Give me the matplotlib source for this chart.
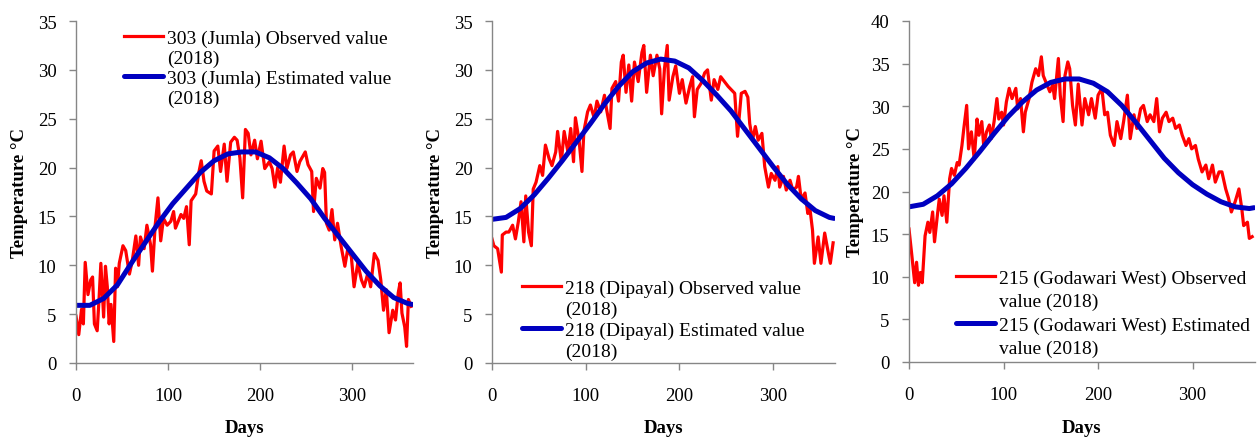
import numpy as np
import matplotlib
matplotlib.use('Agg')
import matplotlib.pyplot as plt
from matplotlib.lines import Line2D

plt.rcParams['font.family'] = ['Liberation Serif', 'DejaVu Serif']

# ---------------- data ----------------
jumla_obs_days = [0, 3, 6, 8, 10, 13, 16, 18, 20, 23, 25, 27, 30, 32, 34, 36, 38, 41, 43, 45, 47, 51, 54, 58,
                  61, 65, 68, 70, 74, 77, 81, 83, 86, 89, 92, 95, 99, 103, 106, 108, 114, 117, 120, 123, 125,
                  130, 133, 136, 139, 142, 147, 150, 154, 157, 161, 164, 168, 172, 175, 178, 181, 184, 187,
                  190, 194, 197, 201, 205, 210, 213, 216, 219, 222, 226, 229, 233, 236, 240, 243, 249, 252,
                  256, 258, 261, 265, 268, 270, 272, 275, 278, 281, 284, 288, 292, 295, 299, 302, 306, 310,
                  313, 317, 320, 324, 328, 331, 334, 337, 340, 344, 347, 350, 352, 354, 357, 359, 361, 364]
jumla_obs = [4.8, 2.9, 5.5, 4.0, 10.3, 7.0, 8.5, 8.8, 4.0, 3.3, 6.5, 10.2, 4.7, 9.9, 7.8, 4.0, 6.0, 2.2, 9.7,
             7.8, 10.2, 12.0, 11.5, 9.1, 10.4, 13.0, 10.0, 12.9, 11.7, 14.1, 12.1, 9.4, 14.1, 16.9, 12.5,
             14.8, 14.1, 14.5, 15.5, 13.8, 15.2, 14.8, 16.0, 12.1, 16.6, 17.3, 19.3, 20.7, 18.6, 17.6, 17.3,
             21.7, 22.2, 19.6, 22.4, 18.6, 22.6, 23.1, 22.8, 21.0, 16.9, 23.9, 23.5, 21.3, 22.8, 20.9, 22.7,
             19.9, 20.6, 19.9, 18.0, 20.0, 18.5, 22.2, 19.9, 21.3, 21.6, 19.6, 20.6, 21.6, 20.3, 19.6, 15.5,
             18.9, 17.9, 19.9, 19.5, 14.3, 13.6, 15.7, 12.6, 14.3, 11.9, 9.9, 11.6, 10.9, 7.8, 10.2, 8.5,
             7.8, 9.2, 7.8, 11.2, 10.5, 8.5, 5.4, 7.5, 3.1, 5.4, 4.4, 7.2, 8.2, 5.1, 3.7, 1.7, 6.5, 5.8]

dipayal_obs_days = [0, 2, 6, 10, 11, 15, 18, 22, 25, 28, 31, 34, 36, 39, 42, 44, 47, 51, 54, 57, 61, 64, 68,
                    70, 74, 77, 81, 84, 87, 89, 93, 96, 98, 102, 105, 109, 112, 116, 120, 122, 126, 128, 132,
                    135, 138, 140, 143, 146, 149, 152, 156, 160, 162, 165, 169, 172, 176, 179, 181, 184, 187,
                    189, 193, 196, 200, 203, 207, 211, 214, 216, 219, 223, 227, 230, 234, 237, 241, 244, 248,
                    252, 255, 259, 262, 266, 270, 273, 275, 278, 281, 284, 288, 291, 295, 298, 302, 305, 307,
                    311, 314, 318, 321, 325, 327, 330, 334, 337, 339, 342, 344, 348, 351, 355, 359, 361, 364]
dipayal_obs = [12.7, 12.0, 11.7, 9.3, 13.1, 13.4, 13.4, 14.1, 12.7, 14.4, 16.5, 12.4, 17.1, 13.4, 12.0, 17.8,
               18.5, 20.2, 19.2, 22.3, 20.9, 20.2, 21.6, 23.7, 20.6, 23.7, 21.6, 24.0, 20.6, 25.1, 22.7, 19.6,
               23.7, 25.7, 26.4, 25.1, 26.8, 25.7, 27.4, 26.1, 24.0, 28.1, 28.8, 26.8, 30.8, 31.5, 27.7, 30.5,
               26.8, 30.8, 28.8, 31.8, 32.5, 27.7, 31.5, 29.4, 31.5, 30.1, 25.5, 30.1, 32.5, 26.9, 29.3, 30.4,
               27.6, 29.0, 26.6, 28.3, 29.3, 25.2, 28.0, 28.6, 29.7, 30.0, 26.9, 29.0, 28.0, 29.3, 28.8, 28.3,
               28.0, 27.6, 23.2, 27.6, 27.8, 27.2, 24.5, 22.8, 24.2, 22.8, 23.5, 20.1, 18.0, 19.4, 18.7, 20.1,
               18.0, 19.1, 17.7, 18.7, 17.7, 18.0, 19.1, 16.7, 17.4, 15.3, 16.0, 13.6, 10.2, 12.9, 10.2, 13.3,
               11.2, 10.2, 12.3]

godawari_obs_days = [0, 3, 6, 8, 10, 12, 14, 17, 20, 22, 25, 27, 30, 32, 35, 37, 40, 43, 45, 48, 51, 53, 56,
                     58, 61, 63, 66, 69, 72, 74, 77, 79, 82, 85, 87, 90, 93, 95, 98, 100, 103, 106, 109, 113,
                     115, 118, 121, 123, 127, 130, 134, 137, 140, 142, 146, 149, 152, 154, 158, 160, 163, 165,
                     168, 170, 173, 176, 179, 183, 186, 190, 193, 197, 200, 204, 207, 210, 213, 217, 220, 224,
                     227, 231, 234, 238, 241, 245, 248, 252, 255, 259, 262, 265, 268, 272, 275, 279, 282, 286,
                     289, 293, 296, 299, 303, 306, 310, 314, 317, 321, 324, 328, 331, 335, 338, 341, 345, 349,
                     352, 354, 358, 360, 363]
godawari_obs = [15.6, 12.5, 9.3, 11.7, 9.0, 10.5, 9.3, 14.8, 16.4, 15.2, 17.6, 14.1, 17.2, 19.1, 17.2, 19.5,
                16.4, 21.5, 22.7, 21.9, 23.4, 23.1, 25.4, 27.4, 30.1, 25.0, 27.0, 23.8, 28.5, 26.6, 28.2, 25.4,
                27.0, 27.8, 26.2, 28.2, 30.9, 28.5, 29.3, 27.8, 30.5, 32.1, 30.9, 32.1, 29.7, 30.9, 27.0, 29.3,
                30.9, 32.8, 34.4, 33.6, 35.8, 33.6, 32.5, 31.7, 32.5, 30.9, 35.6, 31.3, 28.2, 33.6, 35.2, 34.4,
                30.1, 27.8, 32.6, 27.8, 30.9, 29.0, 30.9, 28.6, 31.3, 32.1, 29.0, 29.3, 26.6, 25.4, 28.2, 26.2,
                28.2, 31.3, 26.2, 29.0, 27.4, 29.7, 30.1, 28.2, 29.0, 28.2, 30.9, 27.0, 28.6, 29.3, 28.2, 28.6,
                27.4, 27.8, 26.6, 25.4, 26.2, 25.0, 25.4, 23.8, 22.3, 23.1, 21.5, 23.1, 21.1, 22.3, 22.3, 20.3,
                19.2, 17.6, 18.8, 20.3, 18.0, 16.0, 16.4, 14.5, 14.7]

est_days = [0, 15, 30, 45, 60, 75, 90, 105, 120, 135, 150, 165, 180, 195, 210, 225, 240, 255, 270, 285,
            300, 315, 330, 345, 360, 365]
jumla_est = [5.9, 5.9, 6.6, 8.0, 10.2, 12.3, 14.4, 16.3, 17.9, 19.5, 20.7, 21.4, 21.6, 21.6, 21.0, 19.9,
             18.4, 16.8, 14.8, 13.0, 11.2, 9.4, 7.9, 6.7, 6.1, 6.0]
dipayal_est = [14.7, 14.9, 15.8, 17.2, 18.9, 20.7, 22.6, 24.5, 26.5, 28.3, 29.8, 30.7, 31.1, 30.9, 30.2,
               28.9, 27.4, 25.8, 23.9, 22.0, 20.1, 18.3, 16.8, 15.6, 14.9, 14.8]
godawari_est = [18.2, 18.5, 19.5, 20.9, 22.7, 24.7, 26.8, 28.8, 30.5, 31.9, 32.8, 33.2, 33.2, 32.7, 31.7,
                30.1, 28.1, 26.0, 23.9, 22.2, 20.8, 19.7, 18.8, 18.2, 18.0, 18.1]

labels_obs = ["303 (Jumla) Observed value", "218 (Dipayal) Observed value", "215 (Godawari West) Observed"]
labels_obs2 = ["(2018)", "(2018)", "value (2018)"]
labels_est = ["303 (Jumla) Estimated value", "218 (Dipayal) Estimated value", "215 (Godawari West) Estimated"]
labels_est2 = ["(2018)", "(2018)", "value (2018)"]
y_max = [35, 35, 40]
x_ticks = [0, 100, 200, 300]

# ---------------- layout ----------------
W, H = 1260, 439
fig = plt.figure(figsize=(W / 100, H / 100), dpi=100)

# axes rectangles in pixels: left, right, top, bottom
rects = [(76, 413, 22, 364), (492, 835, 22, 364), (909, 1255, 22, 363)]
# legend anchor (handle left x, top y) in pixels
leg_anchor = [(124, 30), (522, 280), (956, 270)]
leg_spacing = [0.12, 0.17, 0.3]
ylab_x = [28, 444, 864]

obs = [(jumla_obs_days, jumla_obs), (dipayal_obs_days, dipayal_obs), (godawari_obs_days, godawari_obs)]
est = [jumla_est, dipayal_est, godawari_est]

RED = '#FF0000'
BLUE = '#0000C0'
GREY = '#868686'
FS = 13.5
LFS = 14

for i in range(3):
    l, r, t, b = rects[i]
    ax = fig.add_axes([l / W, 1 - b / H, (r - l) / W, (b - t) / H])
    ln1, = ax.plot(obs[i][0], obs[i][1], color=RED, lw=2.3, solid_joinstyle='round')
    ln2, = ax.plot(est_days, est[i], color=BLUE, lw=3.6, solid_capstyle='round')
    ax.set_xlim(0, 366)
    ax.set_ylim(0, y_max[i])
    ax.set_xticks(x_ticks)
    ax.set_yticks(np.arange(0, y_max[i] + 1, 5))
    for s in ['top', 'right']:
        ax.spines[s].set_visible(False)
    for s in ['left', 'bottom']:
        ax.spines[s].set_color(GREY)
        ax.spines[s].set_linewidth(1.0)
    ax.tick_params(axis='both', direction='out', length=5, width=1, color=GREY,
                   labelsize=FS, labelcolor='black')
    ax.tick_params(axis='x', pad=12.5)
    ax.tick_params(axis='y', pad=9)
    ax.set_xlabel('Days', fontsize=FS, fontweight='bold')
    ax.set_ylabel('Temperature \u00b0C', fontsize=FS, fontweight='bold')
    axw = r - l
    axh = b - t
    ax.xaxis.set_label_coords(0.5, -(420 - b) / axh)
    ax.yaxis.set_label_coords(-(l - ylab_x[i]) / axw, 0.5)

    blank1 = Line2D([], [], color='none', lw=0)
    blank2 = Line2D([], [], color='none', lw=0)
    fig.legend([ln1, blank1, ln2, blank2],
               [labels_obs[i], labels_obs2[i], labels_est[i], labels_est2[i]],
               loc='upper left',
               bbox_to_anchor=(leg_anchor[i][0] / W, 1 - leg_anchor[i][1] / H),
               frameon=False, fontsize=LFS, handlelength=2.0, handletextpad=0.2,
               labelspacing=leg_spacing[i], borderpad=0, borderaxespad=0)

fig.savefig('out.png', dpi=100)
